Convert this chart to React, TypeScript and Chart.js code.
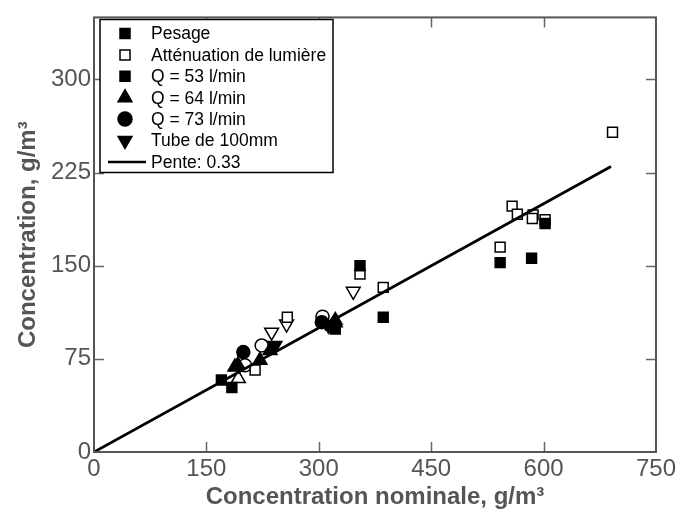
import { useEffect, useRef } from "react";
import { Chart, registerables } from "chart.js";

Chart.register(...registerables);

const FONT = '"Liberation Sans", Arial, sans-serif';

const xTicks = [0, 150, 300, 450, 600, 750];
const yTicks = [0, 75, 150, 225, 300];

// Pesage (filled) / Atténuation (open), by flow condition
const q53PesageX = [170, 184, 316, 322, 355, 386, 542, 584, 602];
const q53PesageY = [58, 52, 102, 99, 150, 108.5, 152.5, 156, 184];
const q53AttenX = [215, 258, 355, 386, 542, 558, 565, 586, 585, 602, 692];
const q53AttenY = [66, 108.5, 143.3, 132.6, 165, 198, 191.5, 191, 188, 187, 257.5];

const q64PesageX = [188, 192, 221.5, 235, 318, 322];
const q64PesageY = [68.4, 70, 73.8, 81.8, 102, 106];
const q64AttenX = [192.6, 322];
const q64AttenY = [59.1, 104];

const q73PesageX = [199.3, 304];
const q73PesageY = [80.5, 104.5];
const q73AttenX = [201.5, 223.8, 305];
const q73AttenY = [69.8, 85.8, 109];

const tubePesageX = [241.5, 313];
const tubePesageY = [85.8, 102];
const tubeAttenX = [237, 257, 346];
const tubeAttenY = [96.5, 103, 129.4];

const penteX = [0, 690];
const penteY = [0, 230];

const legendLabels = [
  "Pesage",
  "Atténuation de lumière",
  "Q = 53 l/min",
  "Q = 64 l/min",
  "Q = 73 l/min",
  "Tube de 100mm",
  "Pente: 0.33",
];

const pts = (xs: number[], ys: number[]) => xs.map((x, i) => ({ x, y: ys[i] }));

function scatter(xs: number[], ys: number[], style: string, filled: boolean, radius: number, rotation = 0) {
  return {
    type: "scatter" as const,
    data: pts(xs, ys),
    pointStyle: style,
    pointRadius: radius,
    pointRotation: rotation,
    backgroundColor: filled ? "#000" : "#fff",
    borderColor: "#000",
    borderWidth: 1.5,
    order: 1,
  };
}

function drawMarker(ctx: CanvasRenderingContext2D, kind: string, x: number, y: number, filled: boolean) {
  ctx.beginPath();
  if (kind === "square") {
    ctx.rect(x - 5, y - 5, 10, 10);
  } else if (kind === "tri") {
    const r = 8;
    ctx.moveTo(x, y - r);
    ctx.lineTo(x + r * 0.866, y + r * 0.5);
    ctx.lineTo(x - r * 0.866, y + r * 0.5);
    ctx.closePath();
  } else if (kind === "itri") {
    const r = 8;
    ctx.moveTo(x, y + r);
    ctx.lineTo(x + r * 0.866, y - r * 0.5);
    ctx.lineTo(x - r * 0.866, y - r * 0.5);
    ctx.closePath();
  } else if (kind === "circle") {
    ctx.arc(x, y, 7, 0, Math.PI * 2);
  }
  ctx.fillStyle = filled ? "#000" : "#fff";
  ctx.fill();
  ctx.lineWidth = 1.5;
  ctx.strokeStyle = "#000";
  ctx.stroke();
}

const framePlugin = {
  id: "frame",
  afterDatasetsDraw(chart: any) {
    const { ctx, chartArea, scales } = chart;
    const { left, right, top, bottom } = chartArea;
    const xs = scales.x;
    const ys = scales.y;
    ctx.save();
    ctx.strokeStyle = "#666";
    ctx.lineWidth = 1.5;
    ctx.beginPath();
    xTicks.slice(1, -1).forEach((v) => {
      const px = Math.round(xs.getPixelForValue(v)) + 0.5;
      ctx.moveTo(px, bottom);
      ctx.lineTo(px, bottom - 10);
      ctx.moveTo(px, top);
      ctx.lineTo(px, top + 10);
    });
    yTicks.slice(1).forEach((v) => {
      const py = Math.round(ys.getPixelForValue(v)) + 0.5;
      ctx.moveTo(left, py);
      ctx.lineTo(left + 10, py);
      ctx.moveTo(right, py);
      ctx.lineTo(right - 10, py);
    });
    ctx.stroke();
    ctx.lineWidth = 2;
    ctx.strokeStyle = "#555";
    ctx.strokeRect(left, top, right - left, bottom - top);

    // legend
    const lx = 100;
    const ly = 19.5;
    const lw = 233;
    const lh = 153;
    ctx.fillStyle = "#fff";
    ctx.fillRect(lx, ly, lw, lh);
    ctx.lineWidth = 1.5;
    ctx.strokeStyle = "#000";
    ctx.strokeRect(lx, ly, lw, lh);
    const kinds = ["square", "square", "square", "tri", "circle", "itri", "line"];
    const filled = [true, false, true, true, true, true, true];
    ctx.font = `17.5px ${FONT}`;
    ctx.textBaseline = "middle";
    ctx.textAlign = "left";
    legendLabels.forEach((label, i) => {
      const cy = ly + 14 + i * 21.4;
      const mx = 125;
      if (kinds[i] === "line") {
        ctx.beginPath();
        ctx.moveTo(108, cy);
        ctx.lineTo(146, cy);
        ctx.lineWidth = 2.5;
        ctx.strokeStyle = "#000";
        ctx.stroke();
      } else {
        drawMarker(ctx, kinds[i], mx, cy, filled[i]);
      }
      ctx.fillStyle = "#000";
      ctx.fillText(label, 151, cy + 1);
    });
    ctx.restore();
  },
};

export default function App() {
  const ref = useRef<HTMLCanvasElement | null>(null);
  useEffect(() => {
    if (!ref.current) return;
    const chart = new Chart(ref.current, {
      type: "scatter",
      data: {
        datasets: [
          {
            type: "line",
            data: pts(penteX, penteY),
            borderColor: "#000",
            borderWidth: 2.8,
            pointRadius: 0,
            fill: false,
            order: 0,
          } as any,
          scatter(q53PesageX, q53PesageY, "rect", true, 7),
          scatter(q53AttenX, q53AttenY, "rect", false, 7),
          scatter(q64PesageX, q64PesageY, "triangle", true, 8),
          scatter(q64AttenX, q64AttenY, "triangle", false, 8),
          scatter(q73PesageX, q73PesageY, "circle", true, 6.5),
          scatter(q73AttenX, q73AttenY, "circle", false, 6.5),
          scatter(tubePesageX, tubePesageY, "triangle", true, 8, 180),
          scatter(tubeAttenX, tubeAttenY, "triangle", false, 8, 180),
        ],
      },
      options: {
        responsive: false,
        animation: false,
        layout: { padding: { top: 13, right: 22, bottom: 0, left: 0 } },
        plugins: { legend: { display: false }, tooltip: { enabled: false } },
        scales: {
          x: {
            type: "linear",
            min: 0,
            max: 750,
            afterBuildTicks: (s: any) => {
              s.ticks = xTicks.map((v) => ({ value: v }));
            },
            afterFit: (s: any) => {
              s.height = 63;
            },
            grid: { display: false, drawTicks: false },
            border: { display: false },
            ticks: {
              padding: 3,
              color: "#555",
              font: { family: FONT, size: 24 },
              maxRotation: 0,
              autoSkip: false,
            },
            title: {
              display: true,
              text: "Concentration nominale, g/m³",
              color: "#555",
              font: { family: FONT, size: 24, weight: "bold" },
              padding: { top: 0, bottom: 3 },
            },
          },
          y: {
            type: "linear",
            min: 0,
            max: 350,
            afterBuildTicks: (s: any) => {
              s.ticks = yTicks.map((v) => ({ value: v }));
            },
            afterFit: (s: any) => {
              s.width = 94;
            },
            grid: { display: false, drawTicks: false },
            border: { display: false },
            ticks: {
              padding: 3,
              color: "#555",
              font: { family: FONT, size: 24 },
              autoSkip: false,
            },
            title: {
              display: true,
              text: "Concentration, g/m³",
              color: "#555",
              font: { family: FONT, size: 24, weight: "bold" },
              padding: { top: 14, bottom: 0 },
            },
          },
        },
      },
      plugins: [framePlugin],
    });
    return () => chart.destroy();
  }, []);
  return (
    <div style={{ position: "fixed", left: 0, top: 0, width: 679, height: 515, background: "#fff" }}>
      <canvas ref={ref} width={679} height={515} />
    </div>
  );
}
